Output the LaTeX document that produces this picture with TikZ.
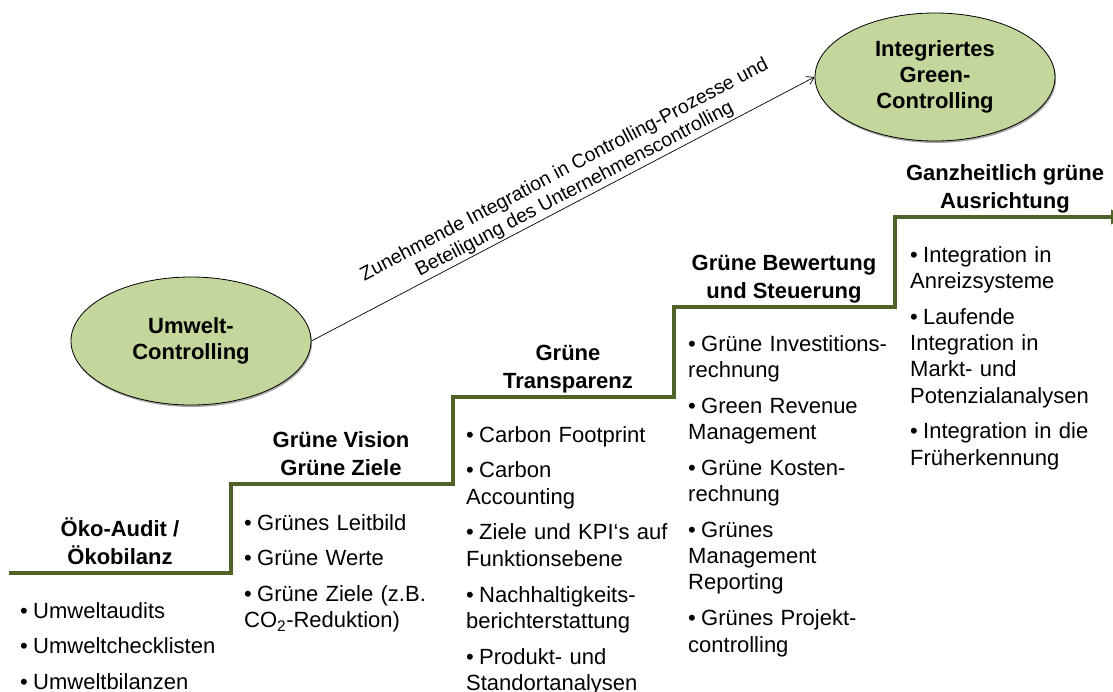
\documentclass[tikz,border=0pt]{standalone}
\usepackage{fontspec}
\setmainfont{Liberation Sans}
\usetikzlibrary{shapes.geometric,arrows.meta,shadows}
\definecolor{stepgreen}{HTML}{4F6228}
\definecolor{ellfill}{HTML}{C3D69B}
\newcommand{\bitem}[1]{\hangindent=13pt\hangafter=1\noindent\makebox[13pt][l]{•}#1\par}
\begin{document}
\begin{tikzpicture}[x=1pt,y=-1pt,
  stair/.style={line width=4pt, draw=stepgreen, line join=miter},
  goal/.style={ellipse, draw=black, line width=0.8pt, fill=ellfill,
    minimum width=240pt, minimum height=128pt, inner sep=0pt, align=center,
    font=\bfseries\fontsize{22}{26}\selectfont,
    drop shadow={shadow xshift=1pt, shadow yshift=-2pt, fill=black, opacity=0.35}},
  head/.style={anchor=base, align=center, inner sep=0pt,
    font=\bfseries\fontsize{22}{28}\selectfont},
  blist/.style={anchor=base west, inner sep=0pt, text width=240pt, align=left,
    font=\fontsize{22}{26.3}\selectfont\setlength{\parskip}{9.5pt}},
  diag/.style={sloped, above, inner sep=2pt, align=center,
    font=\fontsize{19.5}{22}\selectfont},
  link/.style={line width=0.7pt, -{Straight Barb[length=7pt,width=9pt]}}
]
\useasboundingbox (0,0) rectangle (1113,691);

% staircase
\coordinate (s0) at (9,573);
\coordinate (s1) at (231,573);
\coordinate (s2) at (231,484);
\coordinate (s3) at (453,484);
\coordinate (s4) at (453,397);
\coordinate (s5) at (674,397);
\coordinate (s6) at (674,307);
\coordinate (s7) at (895,307);
\coordinate (s8) at (895,217);
\coordinate (s9) at (1125,217);
\draw[stair, -{Triangle[length=14pt,width=14pt]}] (s0) -- (s1) -- (s2) -- (s3) -- (s4) -- (s5) -- (s6) -- (s7) -- (s8) -- (s9);

% ellipses
\node[goal] (uc) at (191,341) {Umwelt-\\Controlling};
\node[goal] (gc) at (935,77) {Integriertes\\Green-\\Controlling};

\draw[link] (uc.east) -- node[diag, pos=0.534] (dl) {Zunehmende Integration in Controlling-Prozesse und\\Beteiligung des Unternehmenscontrolling} (gc.west);

% headings (anchor = baseline of the last line)
\node[head] (h1) at (120,564) {Öko-Audit /\\Ökobilanz};
\node[head] (h2) at (341,475) {Grüne Vision\\Grüne Ziele};
\node[head] (h3) at (568,388) {Grüne\\Transparenz};
\node[head] (h4) at (784,298) {Grüne Bewertung\\und Steuerung};
\node[head] (h5) at (1005,208) {Ganzheitlich grüne\\Ausrichtung};

% lists
\node[blist] (l1) at (20,618) {\bitem{Umweltaudits}\bitem{Umweltchecklisten}\bitem{Umweltbilanzen}};
\node[blist] (l2) at (244,530) {\bitem{Grünes Leitbild}\bitem{Grüne Werte}\bitem{Grüne Ziele (z.B.\\CO\textsubscript{2}-Reduktion)}};
\node[blist] (l3) at (466,442) {\bitem{Carbon Footprint}\bitem{Carbon\\Accounting}\bitem{Ziele und KPI‘s auf\\Funktionsebene}\bitem{Nachhaltigkeits-\\berichterstattung}\bitem{Produkt- und\\Standortanalysen}};
\node[blist] (l4) at (688,351) {\bitem{Grüne Investitions-\\rechnung}\bitem{Green Revenue\\Management}\bitem{Grüne Kosten-\\rechnung}\bitem{Grünes\\Management\\Reporting}\bitem{Grünes Projekt-\\controlling}};
\node[blist] (l5) at (910,262) {\bitem{Integration in\\Anreizsysteme}\bitem{Laufende\\Integration in\\Markt- und\\Potenzialanalysen}\bitem{Integration in die\\Früherkennung}};
\end{tikzpicture}
\end{document}
